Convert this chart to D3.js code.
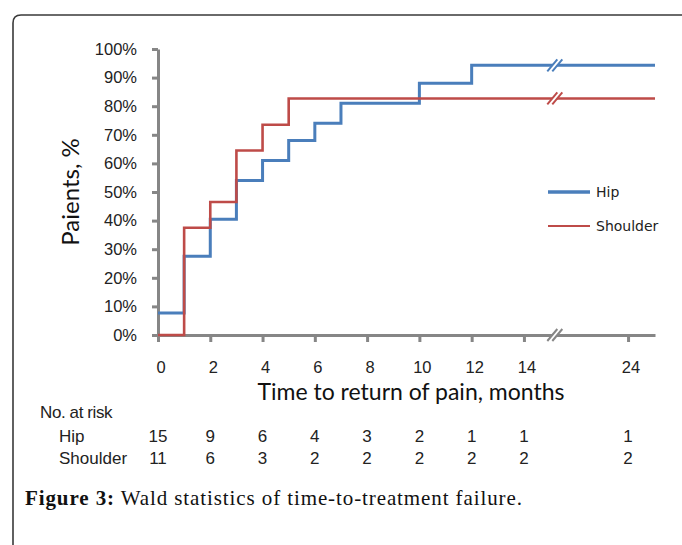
<!DOCTYPE html>
<html>
<head>
<meta charset="utf-8">
<script src="https://cdn.jsdelivr.net/npm/d3@7"></script>
<style>
	body { margin: 0; background: #fff; }
	svg { display: block; }
</style>
</head>
<body>
<svg id="viz-km" width="682" height="545"></svg>
<script>

// Step times (months) and cumulative share of patients with return of pain.
var hipMonths = [ 0, 1, 2, 3, 4, 5, 6, 7, 10, 12 ];
var hipShare = [ 0.077, 0.275, 0.405, 0.54, 0.61, 0.68, 0.74, 0.81, 0.88, 0.943 ];

var shoulderMonths = [ 0, 1, 2, 3, 4, 5 ];
var shoulderShare = [ 0, 0.375, 0.465, 0.645, 0.735, 0.827 ];

// Axis ticks.
var monthTicks = [ 0, 2, 4, 6, 8, 10, 12, 14, 24 ];
var shareTicks = [ 0, 0.1, 0.2, 0.3, 0.4, 0.5, 0.6, 0.7, 0.8, 0.9, 1 ];

// Number at risk, one value per month tick.
var riskGroups = [ 'Hip', 'Shoulder' ];
var hipRisk = [ 15, 9, 6, 4, 3, 2, 1, 1, 1 ];
var shoulderRisk = [ 11, 6, 3, 2, 2, 2, 2, 2, 2 ];

var lastMonth = 25;


window.kmViz = {

	_colors: {
		hip: '#4a7ebb',
		shoulder: '#be4b48',
		axis: '#868686'
	},

	_bindSvg: function () {
		this._svg = d3.select( '#viz-km' );

		// Frame with the rounded top-left corner.
		this._svg.append( 'path' )
			.attr( 'd', 'M13,560 L13,23 Q13,15 21,15 L690,15' )
			.attr( 'fill', 'none' )
			.attr( 'stroke', '#3a3a3a' )
			.attr( 'stroke-width', 1.6 );
	},

	_setScales: function () {
		// The x axis is broken between 15 and 21 months.
		this._x = d3.scaleLinear()
			.domain( [ 0, 15.2, 21.3, lastMonth ] )
			.range( [ 158, 555.3, 555.3, 655 ] );

		this._y = d3.scaleLinear()
			.domain( [ 0, 1 ] )
			.range( [ 335, 49 ] );
	},

	_createAxes: function () {
		var yAxis = d3.axisLeft( this._y )
			.tickValues( shareTicks )
			.tickFormat( d3.format( '.0%' ) )
			.tickSize( 6 )
			.tickSizeOuter( 0 )
			.tickPadding( 15 );

		var xAxis = d3.axisBottom( this._x )
			.tickValues( monthTicks )
			.tickFormat( d3.format( 'd' ) )
			.tickSize( 7 )
			.tickSizeOuter( 0 )
			.tickPadding( 19 );

		var gy = this._svg.append( 'g' )
			.attr( 'transform', 'translate(158,0)' )
			.call( yAxis );

		var gx = this._svg.append( 'g' )
			.attr( 'transform', 'translate(0,335)' )
			.call( xAxis );

		[ gx, gy ].forEach( function ( g ) {
			g.select( '.domain' ).attr( 'stroke', this._colors.axis ).attr( 'stroke-width', 3 );
			g.selectAll( '.tick line' ).attr( 'stroke', this._colors.axis ).attr( 'stroke-width', 3 );
			g.selectAll( '.tick text' )
				.attr( 'fill', '#222' )
				.style( 'font-family', '"Liberation Sans", Arial, sans-serif' )
				.style( 'font-size', '16.5px' );
		}.bind( this ) );

		gx.selectAll( '.tick text' ).attr( 'dx', '0.15em' );

		// Axis titles.
		this._svg.append( 'text' )
			.attr( 'transform', 'translate(79,192) rotate(-90)' )
			.attr( 'text-anchor', 'middle' )
			.style( 'font-family', 'Lato, "Open Sans", sans-serif' )
			.style( 'font-size', '24px' )
			.attr( 'fill', '#111' )
			.text( 'Paients, %' );

		this._svg.append( 'text' )
			.attr( 'x', 411 )
			.attr( 'y', 400 )
			.attr( 'text-anchor', 'middle' )
			.style( 'font-family', 'Lato, "Open Sans", sans-serif' )
			.style( 'font-size', '23px' )
			.attr( 'fill', '#111' )
			.text( 'Time to return of pain, months' );
	},

	_stepData: function ( months, shares ) {
		var pts = months.map( function ( m, i ) { return { m: m, s: shares[i] }; } );
		pts.push( { m: lastMonth, s: shares[shares.length - 1] } );
		return pts;
	},

	_createLines: function () {
		var line = d3.line()
			.x( function ( d ) { return this._x( d.m ); }.bind( this ) )
			.y( function ( d ) { return this._y( d.s ); }.bind( this ) )
			.curve( d3.curveStepAfter );

		this._svg.append( 'path' )
			.datum( this._stepData( hipMonths, hipShare ) )
			.attr( 'd', line )
			.attr( 'fill', 'none' )
			.attr( 'stroke', this._colors.hip )
			.attr( 'stroke-width', 3 );

		this._svg.append( 'path' )
			.datum( this._stepData( shoulderMonths, shoulderShare ) )
			.attr( 'd', line )
			.attr( 'fill', 'none' )
			.attr( 'stroke', this._colors.shoulder )
			.attr( 'stroke-width', 2.6 );
	},

	_drawBreak: function ( cy, color ) {
		var cx = this._x( 15.2 );
		var g = this._svg.append( 'g' );

		g.append( 'path' )
			.attr( 'd', 'M' + ( cx - 8 ) + ',' + ( cy + 6 ) + 'L' + ( cx + 2 ) + ',' + ( cy - 6 ) +
				'L' + ( cx + 7 ) + ',' + ( cy - 6 ) + 'L' + ( cx - 3 ) + ',' + ( cy + 6 ) + 'Z' )
			.attr( 'fill', '#fff' );

		[ 0, 5 ].forEach( function ( off ) {
			g.append( 'line' )
				.attr( 'x1', cx - 8 + off ).attr( 'y1', cy + 6 )
				.attr( 'x2', cx + 2 + off ).attr( 'y2', cy - 6 )
				.attr( 'stroke', color )
				.attr( 'stroke-width', 2 );
		} );
	},

	_createBreaks: function () {
		this._drawBreak( this._y( hipShare[hipShare.length - 1] ), this._colors.hip );
		this._drawBreak( this._y( shoulderShare[shoulderShare.length - 1] ), this._colors.shoulder );
		this._drawBreak( this._y( 0 ), this._colors.axis );
	},

	_createLegend: function () {
		var items = [
			{ name: 'Hip', color: this._colors.hip, width: 3.5, y: 192 },
			{ name: 'Shoulder', color: this._colors.shoulder, width: 2, y: 226 }
		];

		var g = this._svg.selectAll( 'g.legend' )
			.data( items )
			.enter()
			.append( 'g' )
			.classed( 'legend', true )
			.attr( 'transform', function ( d ) { return 'translate(0,' + d.y + ')'; } );

		g.append( 'line' )
			.attr( 'x1', 548 ).attr( 'x2', 590 )
			.attr( 'stroke', function ( d ) { return d.color; } )
			.attr( 'stroke-width', function ( d ) { return d.width; } );

		g.append( 'text' )
			.attr( 'x', 596 )
			.attr( 'y', 5 )
			.style( 'font-family', '"DejaVu Sans", sans-serif' )
			.style( 'font-size', '14px' )
			.attr( 'fill', '#222' )
			.text( function ( d ) { return d.name; } );
	},

	_createRiskTable: function () {
		var font = '"Liberation Sans", Arial, sans-serif';

		this._svg.append( 'text' )
			.attr( 'x', 40 )
			.attr( 'y', 418 )
			.style( 'font-family', font )
			.style( 'font-size', '17px' )
			.style( 'letter-spacing', '-0.4px' )
			.attr( 'fill', '#222' )
			.text( 'No. at risk' );

		var rows = [ hipRisk, shoulderRisk ];

		rows.forEach( function ( counts, r ) {
			var baseY = 442 + r * 21.5;

			this._svg.append( 'text' )
				.attr( 'x', 59 )
				.attr( 'y', baseY )
				.style( 'font-family', font )
				.style( 'font-size', '17px' )
				.attr( 'fill', '#222' )
				.text( riskGroups[r] );

			this._svg.selectAll( null )
				.data( counts )
				.enter()
				.append( 'text' )
				.attr( 'x', function ( d, i ) { return this._x( monthTicks[i] ); }.bind( this ) )
				.attr( 'y', baseY )
				.attr( 'text-anchor', 'middle' )
				.style( 'font-family', font )
				.style( 'font-size', '17px' )
				.attr( 'fill', '#222' )
				.text( function ( d ) { return d; } );
		}.bind( this ) );
	},

	_createCaption: function () {
		var t = this._svg.append( 'text' )
			.attr( 'x', 25 )
			.attr( 'y', 505 )
			.style( 'font-family', '"Liberation Serif", "Times New Roman", serif' )
			.style( 'font-size', '21px' )
			.style( 'letter-spacing', '0.9px' )
			.attr( 'fill', '#111' );

		t.append( 'tspan' ).style( 'font-weight', 'bold' ).text( 'Figure 3:' );
		t.append( 'tspan' ).text( ' Wald statistics of time-to-treatment failure.' );
	},

	on: function () {
		this._bindSvg();
		this._setScales();
		this._createAxes();
		this._createLines();
		this._createBreaks();
		this._createLegend();
		this._createRiskTable();
		this._createCaption();
	}

};

window.kmViz.on();
</script>
</body>
</html>
